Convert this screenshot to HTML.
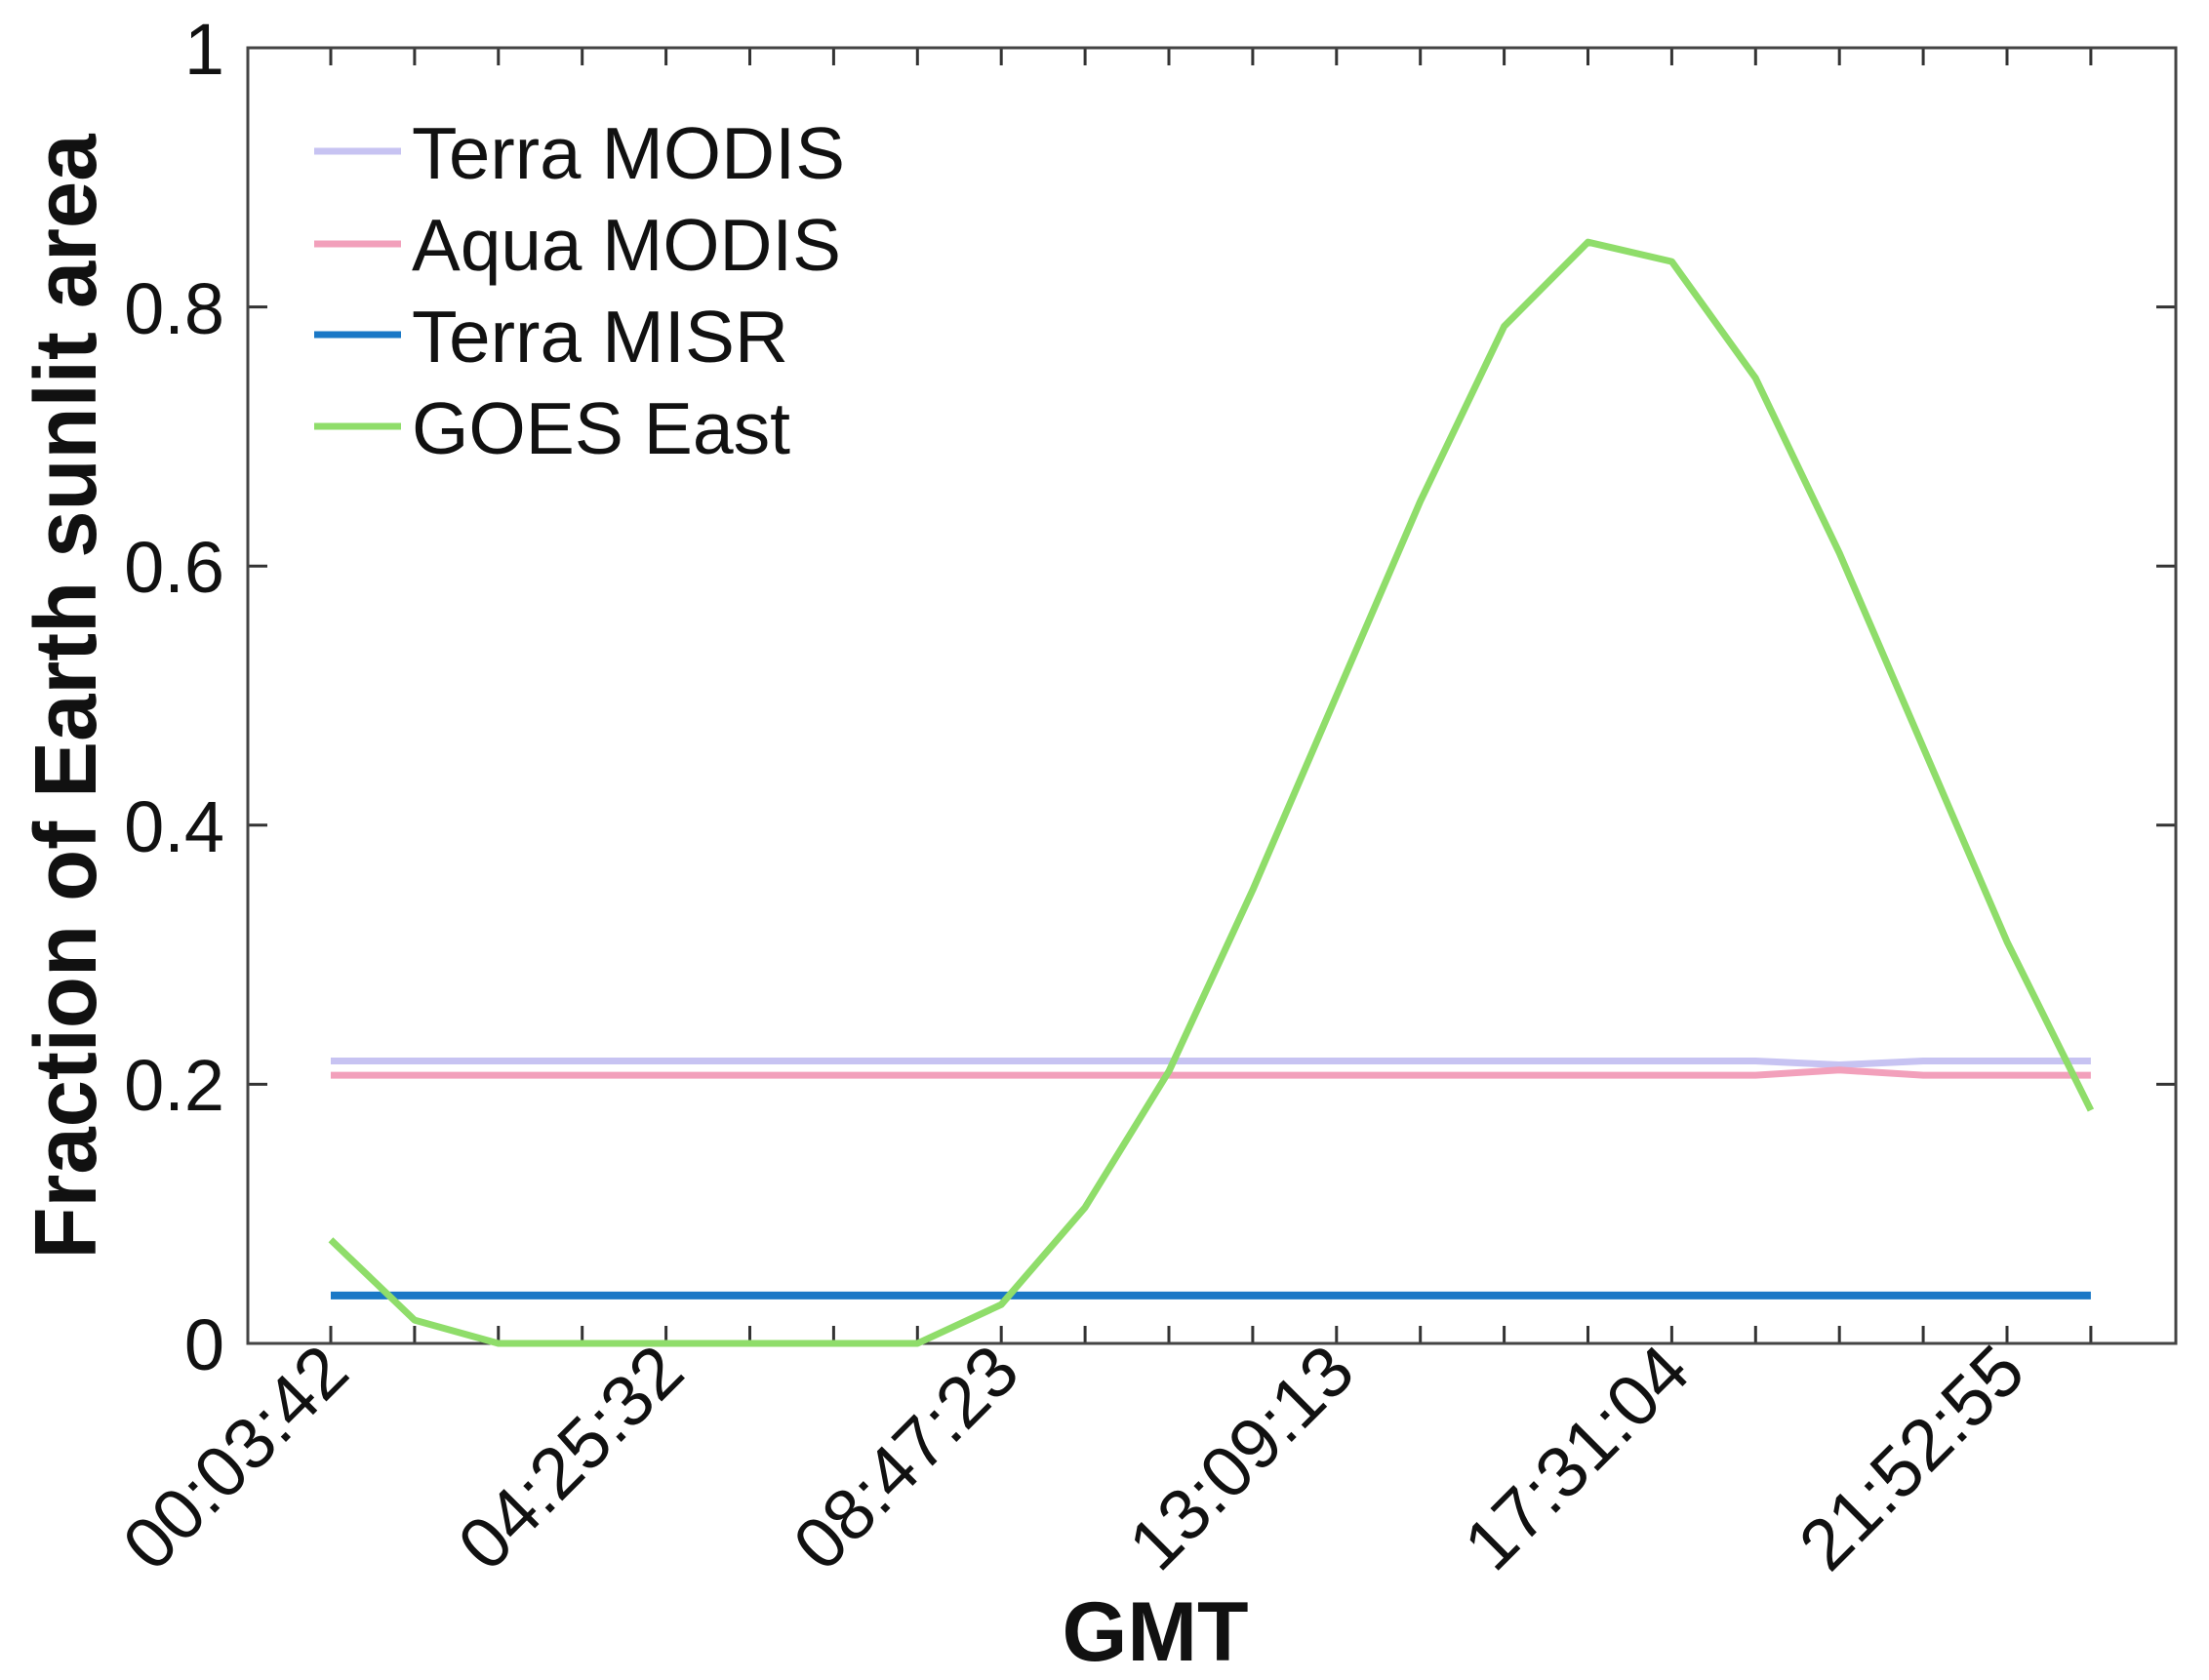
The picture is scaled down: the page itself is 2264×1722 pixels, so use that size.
<!DOCTYPE html>
<html><head><meta charset="utf-8"><style>
html,body{margin:0;padding:0;background:#fff}
svg{display:block}
text{font-family:"Liberation Sans",Arial,sans-serif;fill:#111}
</style></head><body>
<svg width="2264" height="1722" viewBox="0 0 2264 1722" xmlns="http://www.w3.org/2000/svg">
<rect width="2264" height="1722" fill="#fff"/>
<g stroke="#333" stroke-width="3">
<path d="M339 1377v-18M424.9 1377v-18M510.8 1377v-18M596.7 1377v-18M682.6 1377v-18M768.5 1377v-18M854.4 1377v-18M940.3 1377v-18M1026.2 1377v-18M1112.1 1377v-18M1198 1377v-18M1283.9 1377v-18M1369.8 1377v-18M1455.7 1377v-18M1541.6 1377v-18M1627.5 1377v-18M1713.4 1377v-18M1799.3 1377v-18M1885.2 1377v-18M1971.1 1377v-18M2057 1377v-18M2142.9 1377v-18"/>
<path d="M339 49v18M424.9 49v18M510.8 49v18M596.7 49v18M682.6 49v18M768.5 49v18M854.4 49v18M940.3 49v18M1026.2 49v18M1112.1 49v18M1198 49v18M1283.9 49v18M1369.8 49v18M1455.7 49v18M1541.6 49v18M1627.5 49v18M1713.4 49v18M1799.3 49v18M1885.2 49v18M1971.1 49v18M2057 49v18M2142.9 49v18"/>
<path d="M254 1111.4h20M254 845.8h20M254 580.2h20M254 314.6h20M2230 1111.4h-20M2230 845.8h-20M2230 580.2h-20M2230 314.6h-20"/>
</g>
<rect x="254" y="49" width="1976" height="1328" fill="none" stroke="#444" stroke-width="3"/>
<g fill="none" stroke-linejoin="round">
<path stroke="#c7c3f2" stroke-width="7" d="M339 1087.5H1799.3L1885.2 1091.5L1971.1 1087.5H2142.9"/>
<path stroke="#f2a0bb" stroke-width="7" d="M339 1102.1H1799.3L1885.2 1096.8L1971.1 1102.1H2142.9"/>
<path stroke="#1a78c6" stroke-width="8" d="M339 1327.9H2142.9"/>
<path stroke="#8fdd6a" stroke-width="7" d="M339 1270.8L424.9 1353.1L510.8 1377L596.7 1377L682.6 1377L768.5 1377L854.4 1377L940.3 1377L1026.2 1337.2L1112.1 1237.6L1198 1098.1L1283.9 912.2L1369.8 713L1455.7 513.8L1541.6 334.5L1627.5 248.2L1713.4 268.1L1799.3 387.6L1885.2 566.9L1971.1 766.1L2057 965.3L2142.9 1138"/>
</g>
<g font-size="74" text-anchor="end">
<text x="230" y="1404">0</text>
<text x="230" y="1138">0.2</text>
<text x="230" y="873">0.4</text>
<text x="230" y="607">0.6</text>
<text x="230" y="342">0.8</text>
<text x="230" y="76">1</text>
<text x="361" y="1410" transform="rotate(-45 361 1410)">00:03:42</text>
<text x="704.6" y="1410" transform="rotate(-45 704.6 1410)">04:25:32</text>
<text x="1048.2" y="1410" transform="rotate(-45 1048.2 1410)">08:47:23</text>
<text x="1391.8" y="1410" transform="rotate(-45 1391.8 1410)">13:09:13</text>
<text x="1735.4" y="1410" transform="rotate(-45 1735.4 1410)">17:31:04</text>
<text x="2079" y="1410" transform="rotate(-45 2079 1410)">21:52:55</text>
</g>
<g stroke-width="7">
<line x1="322" y1="155" x2="411" y2="155" stroke="#c7c3f2"/>
<line x1="322" y1="250" x2="411" y2="250" stroke="#f2a0bb"/>
<line x1="322" y1="343" x2="411" y2="343" stroke="#1a78c6"/>
<line x1="322" y1="437" x2="411" y2="437" stroke="#8fdd6a"/>
</g>
<g font-size="75">
<text x="422" y="183" textLength="444" lengthAdjust="spacingAndGlyphs">Terra MODIS</text>
<text x="422" y="277" textLength="440" lengthAdjust="spacingAndGlyphs">Aqua MODIS</text>
<text x="422" y="371" textLength="386" lengthAdjust="spacingAndGlyphs">Terra MISR</text>
<text x="422" y="465" textLength="388" lengthAdjust="spacingAndGlyphs">GOES East</text>
</g>
<text x="1184" y="1702" font-size="86" font-weight="bold" text-anchor="middle">GMT</text>
<text transform="translate(98,714) rotate(-90)" font-size="90" font-weight="bold" text-anchor="middle" textLength="1153" lengthAdjust="spacingAndGlyphs">Fraction of Earth sunlit area</text>
</svg>
</body></html>
